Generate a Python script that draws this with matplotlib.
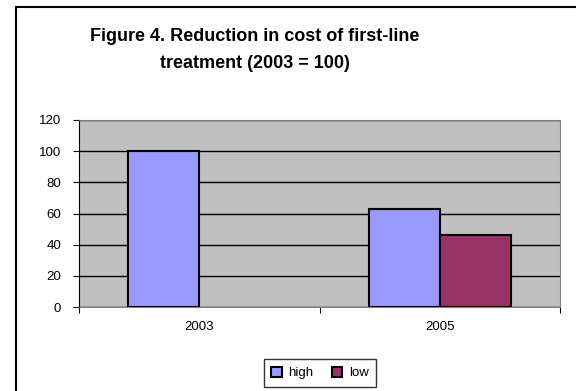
import matplotlib
matplotlib.use("Agg")
import matplotlib.pyplot as plt
from matplotlib.patches import Rectangle
import numpy as np

# dados do grafico
anos = ["2003", "2005"]
high = [100, 63]
low = [np.nan, 46]
series = ["high", "low"]
cores = ["#9999ff", "#993366"]

plt.rcParams["font.family"] = ["Liberation Sans", "DejaVu Sans"]

fig = plt.figure(figsize=(5.76, 3.91), dpi=100)

# moldura externa do grafico (sai pela direita e por baixo)
fig.patches.append(Rectangle((16 / 576, -0.05), 1.0, 1 - 7 / 391 + 0.05,
                             transform=fig.transFigure, fill=False,
                             edgecolor="black", linewidth=1.5))

ax = fig.add_axes([79 / 576, 84 / 391, 481 / 576, 187 / 391])
ax.set_facecolor("#c0c0c0")

x = np.arange(len(anos))
w = 0.295
ax.bar(x - w / 2, high, w, color=cores[0], edgecolor="black", linewidth=1.5,
       label=series[0], zorder=3)
ax.bar(x + w / 2, low, w, color=cores[1], edgecolor="black", linewidth=1.5,
       label=series[1], zorder=3)

ax.set_xlim(-0.5, 1.5)
ax.set_ylim(0, 120)
ax.set_yticks(range(0, 121, 20))
ax.yaxis.grid(True, color="black", linewidth=1, zorder=0)
ax.set_axisbelow(True)

# ticks do eixo x nos limites das categorias
ax.set_xticks([-0.5, 0.5, 1.5])
ax.set_xticklabels([])
ax.set_xticks(x, minor=True)
ax.set_xticklabels(anos, minor=True)
ax.tick_params(axis="x", which="minor", length=0, pad=10, labelsize=9.5)
ax.tick_params(axis="x", which="major", direction="out", length=4)
ax.tick_params(axis="y", direction="out", length=4, labelsize=9.5, pad=9)

for s in ["top", "right"]:
    ax.spines[s].set_color("#808080")
ax.spines["left"].set_color("black")
ax.spines["bottom"].set_color("#808080")

fig.text(255 / 576, 1 - 28 / 391,
         "Figure 4. Reduction in cost of first-line\ntreatment (2003 = 100)",
         ha="center", va="top", fontsize=13, fontweight="bold",
         linespacing=1.75)

leg = fig.legend(loc="center", bbox_to_anchor=(320 / 576, 1 - 373 / 391),
                 ncol=2, fontsize=9.5, frameon=True, fancybox=False,
                 edgecolor="black", handlelength=0.8, handleheight=0.8,
                 handletextpad=0.5, columnspacing=1.4, borderpad=0.55)
leg.get_frame().set_linewidth(1)

fig.savefig("out.png", dpi=100)
